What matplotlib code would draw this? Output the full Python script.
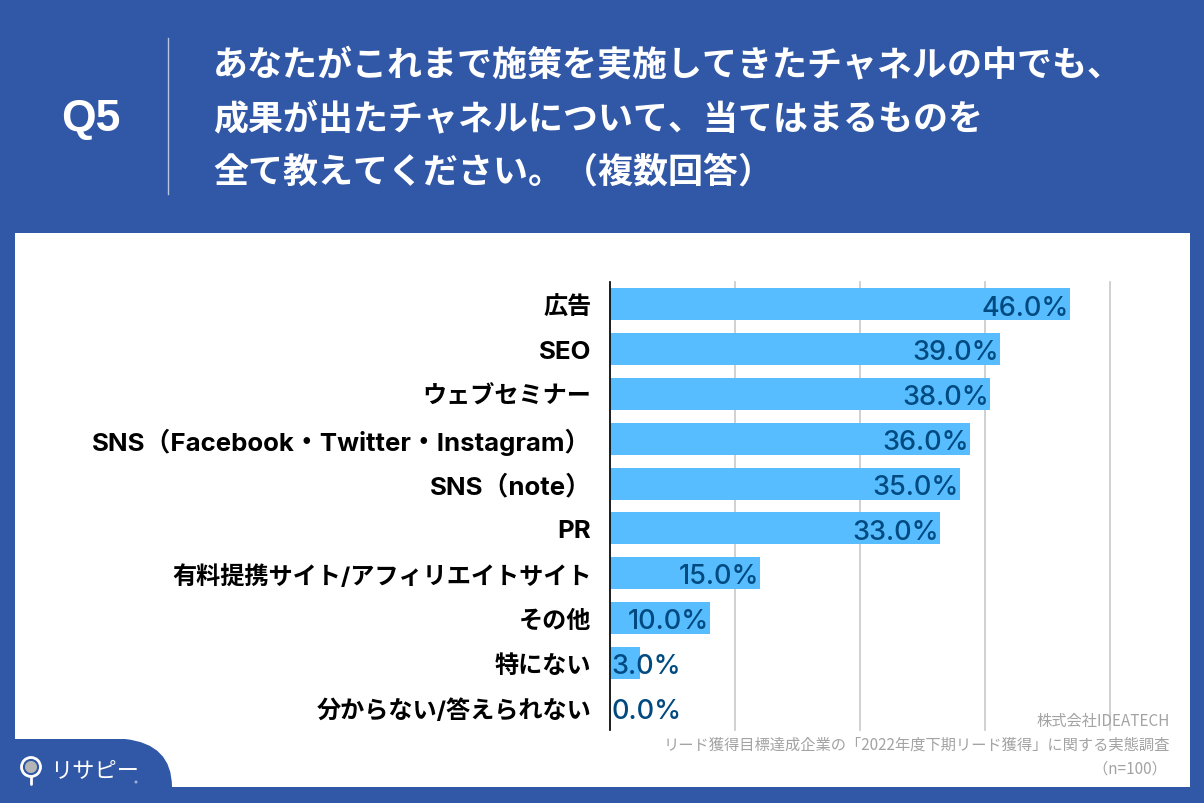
import matplotlib
matplotlib.use("Agg")
import matplotlib.pyplot as plt
from matplotlib.patches import Rectangle, PathPatch, Circle, Wedge
from matplotlib.path import Path

plt.rcParams['font.family'] = ['Inter', 'Noto Sans CJK JP', 'DejaVu Sans']

categories = ["広告", "SEO", "ウェブセミナー", "SNS（Facebook・Twitter・Instagram）", "SNS（note）",
              "PR", "有料提携サイト/アフィリエイトサイト", "その他", "特にない", "分からない/答えられない"]
values = [46.0, 39.0, 38.0, 36.0, 35.0, 33.0, 15.0, 10.0, 3.0, 0.0]
ticks = [0, 12.5, 25, 37.5, 50]
title_lines = ["あなたがこれまで施策を実施してきたチャネルの中でも、",
               "成果が出たチャネルについて、当てはまるものを",
               "全て教えてください。（複数回答）"]
source_lines = ["株式会社IDEATECH", "リード獲得目標達成企業の「2022年度下期リード獲得」に関する実態調査", "（n=100） "]

W, H = 1204, 804
BLUE = "#3157a7"
JP = ['Noto Sans CJK JP', 'DejaVu Sans']

fig = plt.figure(figsize=(W / 100, H / 100), dpi=100, facecolor=BLUE)

# background in pixel coords
bg = fig.add_axes([0, 0, 1, 1], zorder=0)
bg.set_xlim(0, W)
bg.set_ylim(H, 0)
bg.axis("off")
bg.add_patch(Rectangle((15, 234), 1175, 554, fc="white", ec="none"))

# logo tab
tab = Path([(0, 740), (125, 740), (172, 745), (172, 788), (0, 788), (0, 740)],
           [Path.MOVETO, Path.LINETO, Path.CURVE3, Path.CURVE3, Path.LINETO, Path.CLOSEPOLY])
bg.add_patch(PathPatch(tab, fc=BLUE, ec="none"))
bg.add_patch(Circle((31, 768), 9.5, fc="none", ec="white", lw=2))
bg.add_patch(Wedge((31, 768), 6, 0, 360, fc="#b5b5b5", ec="none"))
bg.plot([31, 31], [778, 785], color="white", lw=2, solid_capstyle="round")
bg.text(95, 771, "リサピー", color="white", fontsize=16, ha="center", va="center", family=JP)
bg.add_patch(Circle((136, 783), 1.5, fc="#9fb0d8", ec="none"))

# header
bg.plot([168, 168], [39, 195], color="#b9c6e2", lw=1)
bg.text(91, 120, "Q5", color="white", fontsize=32, fontweight="bold", ha="center", va="center",
        family=["Liberation Sans"])
for y, line in zip([65, 120, 172], title_lines):
    bg.text(213, y, line, color="white", fontsize=25.2, fontweight="bold", ha="left", va="center", family=JP)

# chart
left, right, top, bottom = 609.5, 1109.5, 283, 731
ax = fig.add_axes([left / W, 1 - bottom / H, (right - left) / W, (bottom - top) / H], zorder=1)
ax.patch.set_alpha(0)
pos = list(range(len(categories)))
ax.barh(pos, values, height=0.715, color="#57bdff", zorder=2)
ax.set_xlim(0, 50)
ax.set_ylim(len(categories) - 0.5, -0.5)
ax.set_xticks(ticks)
ax.grid(axis="x", color="#c8c8c8", lw=1.2, zorder=1)
for gl in ax.get_xgridlines():
    gl.set_clip_on(False)
ax.tick_params(axis="both", length=0)
ax.tick_params(axis="x", labelbottom=False)
ax.set_yticks(pos)
ax.set_yticklabels(categories, fontsize=17.4, fontweight="bold", color="black")
ax.tick_params(axis="y", pad=13)
# latin labels run wider in the original
for t in ax.get_yticklabels():
    if t.get_text()[0] in "SP":
        t.set_fontsize(18.6)
for s in ["top", "right", "bottom"]:
    ax.spines[s].set_visible(False)
ax.spines["left"].set_linewidth(1.2)
ax.spines["left"].set_zorder(4)

for p, v in zip(pos, values):
    label = "%.1f%%" % v
    if v >= 10:
        ax.text(v - 0.05, p + 0.07, label, ha="right", va="center", fontsize=19.5, color="#004a80",
                fontweight="medium", zorder=5)
    else:
        ax.text(0.2, p + 0.07, label, ha="left", va="center", fontsize=19.5, color="#004a80",
                fontweight="medium", zorder=5)

# source note
for y, line in zip([722, 745, 769], source_lines):
    fig.text(1170 / W, 1 - y / H, line, color="#a3a3a3", fontsize=11, ha="right", va="center",
             zorder=3, family=JP)

fig.savefig("out.png", dpi=100, facecolor=BLUE)
